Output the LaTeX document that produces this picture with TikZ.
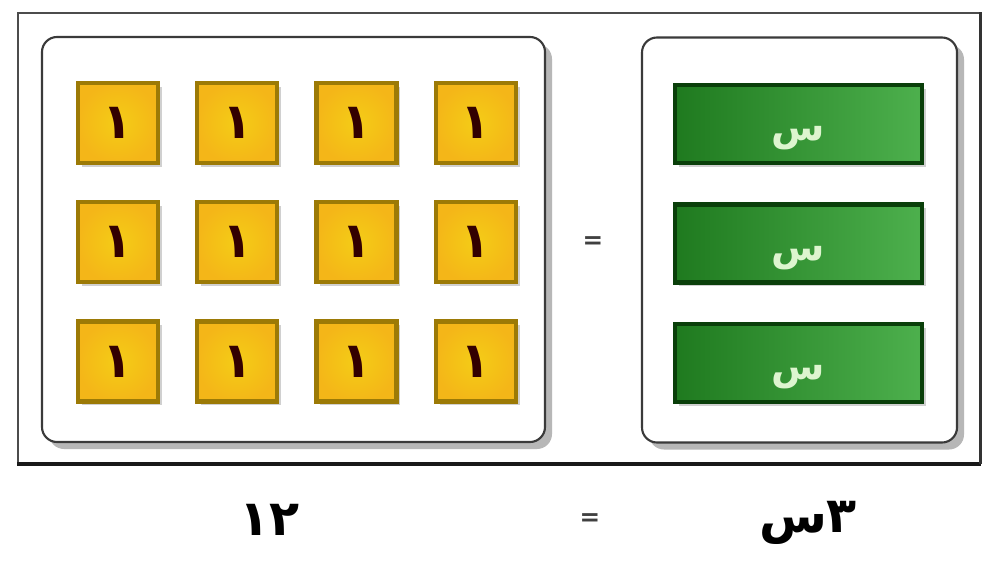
\documentclass[tikz,border=0pt]{standalone}
\usepackage{fontspec}
\newfontfamily\arabicfont[Script=Arabic]{DejaVu Sans}
\TeXXeTstate=1
\usetikzlibrary{positioning,shadows}
\definecolor{TileGold}{HTML}{F2C01C}
\definecolor{TileEdge}{HTML}{9C7A06}
\definecolor{BarGreen}{HTML}{1F7A1F}
\definecolor{BarLight}{HTML}{4DB04D}
\definecolor{BarEdge}{HTML}{0A3F0A}
\definecolor{PanelEdge}{HTML}{3A3A3A}
\definecolor{SymLight}{HTML}{DDF5CF}
\newcommand{\varsym}{\raisebox{-4pt}{س}}
\tikzset{
  framebox/.style={draw=black!70,line width=0.8pt,minimum width=192.4mm,minimum height=90mm,inner sep=0pt},
  panelbox/.style={draw=PanelEdge,line width=1.2pt,rounded corners=3mm,fill=white,minimum height=81mm,inner sep=0pt,
    drop shadow={shadow xshift=1.4mm,shadow yshift=-1.4mm,opacity=0.4,fill=black!70}},
  unittile/.style={draw=TileEdge,line width=2.4pt,inner color=TileGold!80!yellow,outer color=TileGold!85!orange,minimum width=16mm,minimum height=16mm,inner sep=0pt,
    font=\arabicfont\bfseries\fontsize{28}{28}\selectfont,text=black!80!red,
    drop shadow={shadow xshift=0.8mm,shadow yshift=-0.8mm,opacity=0.3,fill=black!60}},
  varbar/.style={draw=BarEdge,line width=2.5pt,left color=BarGreen,right color=BarLight,minimum width=49.4mm,minimum height=15.6mm,inner sep=0pt,
    font=\arabicfont\bfseries\fontsize{22}{22}\selectfont,text=SymLight,text height=1.1em,text depth=0pt,
    drop shadow={shadow xshift=0.8mm,shadow yshift=-0.8mm,opacity=0.3,fill=black!60}},
  eqsign/.style={font=\arabicfont\bfseries\fontsize{14}{14}\selectfont,text=black!75},
  sumlabel/.style={font=\arabicfont\bfseries\fontsize{28}{28}\selectfont,text=black}
}

\begin{document}
\begin{tikzpicture}[node distance=7mm and 7mm]
\useasboundingbox[fill=white] (0,0) rectangle (19.84,-11.34);
\node[framebox] (frame) at (9.98,-4.76) {};
\draw[line width=2.2pt,black!90] (frame.south west)--(frame.south east);
\draw[line width=1.4pt,black!80] (frame.north east)--(frame.south east);

\node[panelbox,minimum width=100.6mm] (units) at (5.87,-4.79) {};
\node[panelbox,minimum width=63mm] (vars) at (15.99,-4.8) {};

\node[unittile] (u11) at (2.36,-2.46) {١};
\node[unittile,right=of u11] (u12) {١};
\node[unittile,right=of u12] (u13) {١};
\node[unittile,right=of u13] (u14) {١};
\node[unittile,below=of u11] (u21) {١};
\node[unittile,right=of u21] (u22) {١};
\node[unittile,right=of u22] (u23) {١};
\node[unittile,right=of u23] (u24) {١};
\node[unittile,below=of u21] (u31) {١};
\node[unittile,right=of u31] (u32) {١};
\node[unittile,right=of u32] (u33) {١};
\node[unittile,right=of u33] (u34) {١};

\node[varbar] (x1) at (15.97,-2.48) {\varsym};
\node[varbar,below=7.4mm of x1] (x2) {\varsym};
\node[varbar,below=7.4mm of x2] (x3) {\varsym};

\node[eqsign] (eqtop) at (11.86,-4.86) {=};

\node[sumlabel] (lhs) at (5.4,-10.4) {١٢};
\node[eqsign] (eqbot) at (11.8,-10.4) {=};
\node[sumlabel] (rhs) at (16.16,-10.45) {\beginR ٣س\endR};
\end{tikzpicture}
\end{document}
